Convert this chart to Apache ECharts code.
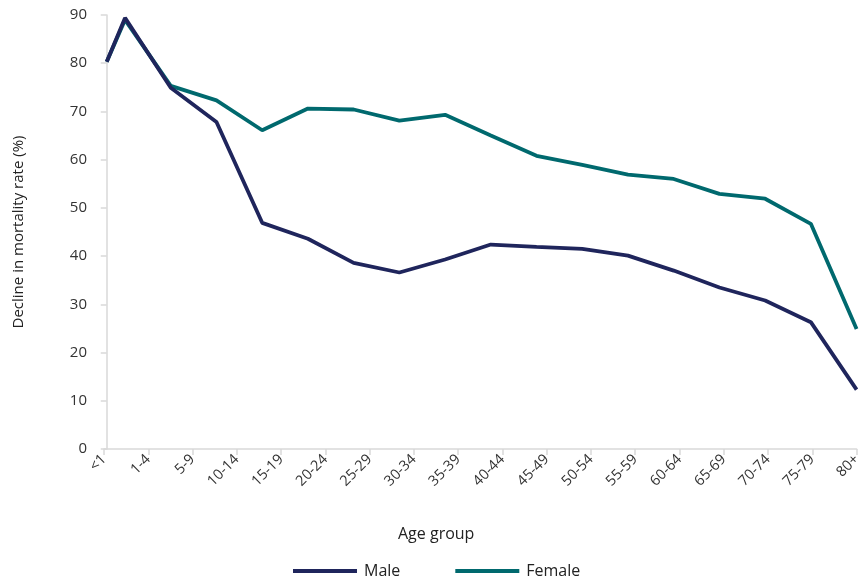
<!DOCTYPE html>
<html>
<head>
<meta charset="utf-8">
<script src="https://cdn.jsdelivr.net/npm/echarts@6/dist/echarts.min.js"></script>
<style>html,body{margin:0;padding:0;background:#fff}#c{width:864px;height:586px}</style>
</head>
<body>
<div id="c"></div>
<script>
const categories = ['<1','1-4','5-9','10-14','15-19','20-24','25-29','30-34','35-39','40-44','45-49','50-54','55-59','60-64','65-69','70-74','75-79','80+'];
const ageX = [0,2,7,12,17,22,27,32,37,42,47,52,57,62,67,72,77,82];
const male = [80.3,89.4,74.9,67.8,46.9,43.6,38.6,36.6,39.3,42.4,41.9,41.5,40.1,37.0,33.5,30.8,26.3,12.3];
const female = [80.3,89.0,75.3,72.3,66.1,70.6,70.4,68.1,69.3,65.0,60.8,58.9,56.9,56.0,52.9,51.9,46.7,24.9];
const yTicks = {min:0, max:90, interval:10};

const FONT = '"Open Sans", "Noto Sans", sans-serif';
const pairs = (xs, ys) => xs.map((x,i)=>[x, ys[i]]);

const chart = echarts.init(document.getElementById('c'), null, {renderer:'canvas'});
chart.setOption({
  animation:false,
  textStyle:{fontFamily:FONT},
  grid:{left:104, right:3, top:15, bottom:137, containLabel:false},
  xAxis:[{
    type:'category', data:categories, boundaryGap:false,
    axisLine:{lineStyle:{color:'#d9d9d9', width:1.5}},
    axisTick:{show:true, alignWithLabel:true, length:6, lineStyle:{color:'#d9d9d9', width:1.5}},
    axisLabel:{rotate:45, color:'#333', fontSize:14.5, fontFamily:FONT, margin:8, interval:0},
    splitLine:{show:false}
  },{
    type:'value', min:-0.3, max:82, show:false, splitLine:{show:false}
  }],
  yAxis:{
    type:'value', min:yTicks.min, max:yTicks.max, interval:yTicks.interval,
    name:'Decline in mortality rate (%)', nameLocation:'middle', nameGap:78,
    nameTextStyle:{color:'#222', fontSize:15, fontFamily:FONT},
    axisLine:{show:true, lineStyle:{color:'#d9d9d9', width:1.5}},
    axisTick:{show:true, length:6, lineStyle:{color:'#d9d9d9', width:1.5}},
    axisLabel:{color:'#333', fontSize:15, fontFamily:FONT, margin:17},
    splitLine:{show:false}
  },
  legend:{
    left:288, top:558, itemWidth:64, itemHeight:14, itemGap:55,
    icon:'path://M0,0 L64,0 L64,4 L0,4 Z',
    textStyle:{color:'#222', fontSize:16, fontFamily:FONT, padding:[0,0,0,2]},
    data:['Male','Female']
  },
  graphic:[{
    type:'text', left:398, top:526,
    style:{text:'Age group', fill:'#222', font:'16px "Open Sans", "Noto Sans", sans-serif'}
  }],
  series:[{
    name:'Male', type:'line', xAxisIndex:1, data:pairs(ageX, male),
    symbol:'none', color:'#1f255c', lineStyle:{width:3.8, color:'#1f255c'}, z:3
  },{
    name:'Female', type:'line', xAxisIndex:1, data:pairs(ageX, female),
    symbol:'none', color:'#00696e', lineStyle:{width:3.8, color:'#00696e'}, z:2
  }]
});
</script>
</body>
</html>
